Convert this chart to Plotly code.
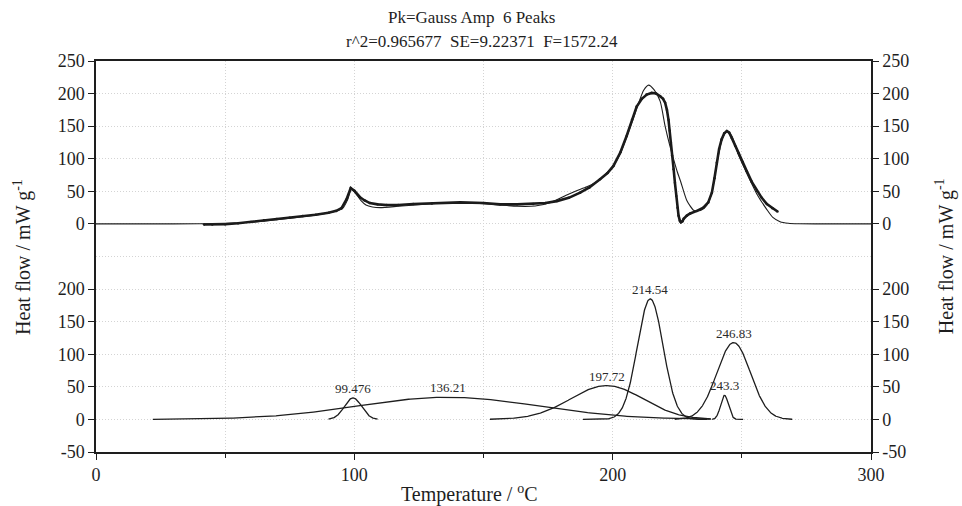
import numpy as np
import plotly.graph_objects as go

# ---------------- data ----------------
# measured DSC curve (thick, dotted in the original)
data_t = [41.8, 45, 50, 55, 60, 65, 70, 75, 80, 85, 90, 93, 95, 97, 98.6, 100, 102.2, 104, 106, 109,
          112.5, 117, 122.8, 130, 141, 150, 156.4, 163, 169.2, 174, 178.4, 183, 187.4, 191, 195.1, 198,
          200.3, 203, 205.4, 207.5, 209.3, 211.3, 213.2, 215.1, 216.8, 218.4, 219.5, 220.3, 221, 221.6,
          222.1, 222.5, 223, 223.6, 224.1, 224.6, 225.1, 225.5, 226, 226.4, 227, 227.5, 228.7, 230, 232.6,
          235.1, 237, 238.4, 239.4, 240.3, 241.2, 242.2, 243.2, 244.2, 245.1, 246.1, 247.4, 248.7, 250.3,
          251.9, 253.8, 255.8, 257.7, 259.7, 261.8, 263.8]
data_hf = [-1, -1, -0.5, 1, 3, 5.5, 7.5, 9.5, 12, 14, 17, 20, 24, 38, 55, 51, 41, 36, 32, 30,
           29, 29, 30.5, 31.5, 33, 32, 30, 30, 30.5, 32, 35, 40, 48, 56, 68.7, 78,
           89, 110, 135, 160, 180, 192, 198.5, 201, 200, 196, 192, 186, 175, 160,
           143, 125, 105, 84, 63, 43, 25, 12.7, 5, 2.5, 4, 8, 12.7, 16, 20,
           25, 33, 48, 70, 94, 115, 130, 139, 142.5, 140, 132, 120, 109, 95,
           81, 65, 51, 40, 30.5, 24, 19]

# fitted envelope (thin line)
fit_t = [0, 20, 40, 50, 60, 70, 80, 90, 93, 95.5, 97.5, 98.8, 100.5, 102.5, 104.5, 107, 110, 117, 125,
         135, 145, 155, 163, 170, 176, 182, 186, 190, 195, 200, 203, 205.4, 208, 210, 212, 213.9, 216,
         218.4, 220.3, 222, 223.6, 225, 226.4, 228.7, 231.3, 233, 235, 236.5, 238.4, 240.3, 242.2, 244.2,
         246.1, 248.7, 251.9, 255.8, 259.7, 262, 264.8, 268, 272, 280, 300]
fit_hf = [0, 0, 0.3, 0.8, 2.5, 6.5, 11, 17, 20, 24, 38, 53, 47, 36, 29, 26, 25, 27, 29.5,
          32, 32, 29.5, 27, 27.5, 33, 44, 51, 57, 68, 88, 108, 133, 162, 185, 205, 213, 206,
          188, 150, 122, 99, 80, 64, 36, 21, 20, 23, 29, 48, 92, 128, 143,
          135, 106, 78, 46, 22, 10, 3.5, 1, 0.2, 0, 0]

# Gaussian peak components (Pk=Gauss Amp)
peak_labels = ["99.476", "136.21", "197.72", "214.54", "243.3", "246.83"]
peak_centers = [99.476, 136.21, 197.72, 214.54, 243.3, 246.83]
peak_amps = [33, 34, 52, 185, 37, 118]
peak_widths = [3.3, 35, 14, 5.0, 1.5, 6.5]
peak_start = [90, 22, 152.5, 188.5, 238.5, 224]
peak_end = [109, 238, 238, 236.5, 250.5, 269.5]

title_line1 = "Pk=Gauss Amp&nbsp;&nbsp;6 Peaks"
title_line2 = "r^2=0.965677&nbsp;&nbsp;SE=9.22371&nbsp;&nbsp;F=1572.24"

x_ticks = [0, 100, 200, 300]
x_minor = [50, 150, 250]
top_ticks = [0, 50, 100, 150, 200, 250]
bottom_ticks = [-50, 0, 50, 100, 150, 200]

# ---------------- figure ----------------
FONT = "Liberation Serif"
INK = "#1e1e1e"
GRID = "#d4d4d4"
GDASH = "1px,2px"

fig = go.Figure()

fig.add_trace(go.Scatter(x=data_t, y=data_hf, mode="lines+markers", xaxis="x2", yaxis="y2",
                         line=dict(color="#1a1a1a", width=2.6),
                         marker=dict(size=2.5, color="#1a1a1a"), hoverinfo="skip", showlegend=False))
fig.add_trace(go.Scatter(x=fit_t, y=fit_hf, mode="lines", xaxis="x2", yaxis="y2",
                         line=dict(color=INK, width=1.1, shape="spline", smoothing=0.6),
                         hoverinfo="skip", showlegend=False))

for c, a, w, s, e in zip(peak_centers, peak_amps, peak_widths, peak_start, peak_end):
    xs = np.linspace(s, e, 300)
    ys = a * np.exp(-(xs - c) ** 2 / (2 * w ** 2))
    fig.add_trace(go.Scatter(x=xs, y=ys, mode="lines", xaxis="x", yaxis="y",
                             line=dict(color=INK, width=1.3), hoverinfo="skip", showlegend=False))

# empty traces to activate right-hand mirror axes
fig.add_trace(go.Scatter(x=[], y=[], xaxis="x", yaxis="y3", showlegend=False))
fig.add_trace(go.Scatter(x=[], y=[], xaxis="x2", yaxis="y4", showlegend=False))

for lab, c, a in zip(peak_labels, peak_centers, peak_amps):
    fig.add_annotation(x=c, y=a, xref="x", yref="y", text=lab, showarrow=False,
                       yanchor="bottom", yshift=0, font=dict(family=FONT, size=13, color="#2a2a2a"))

tickfont = dict(family=FONT, size=18, color=INK)
bottom_text = [str(v) for v in bottom_ticks]
top_text = [str(v) for v in top_ticks]

common_x = dict(range=[0, 300], showline=True, linecolor=INK, linewidth=1.5,
                showgrid=True, gridcolor=GRID, griddash=GDASH, gridwidth=1, zeroline=False)
yline = dict(showline=True, linecolor=INK, linewidth=1.5, zeroline=False, range=[-50, 250],
             ticks="outside", ticklen=6, tickwidth=1.3, tickcolor=INK, tickfont=tickfont)
fig.update_layout(
    xaxis=dict(domain=[0, 1], anchor="y", tickvals=x_ticks, ticks="outside", ticklen=6,
               tickwidth=1.3, tickcolor=INK, tickfont=tickfont,
               minor=dict(tickvals=x_minor, ticks="outside", ticklen=4, tickcolor=INK,
                          showgrid=True, gridcolor=GRID, griddash=GDASH),
               **common_x),
    xaxis2=dict(domain=[0, 1], anchor="y2", matches="x", side="top", tickvals=x_ticks,
                showticklabels=False, ticks="",
                minor=dict(tickvals=x_minor, ticks="", showgrid=True, gridcolor=GRID, griddash=GDASH),
                **common_x),
    yaxis=dict(domain=[0, 0.5], anchor="x", tickvals=bottom_ticks, ticktext=bottom_text,
               showgrid=True, gridcolor=GRID, griddash=GDASH, **yline),
    yaxis2=dict(domain=[0.5, 1], anchor="x2", tickvals=top_ticks, ticktext=top_text,
                showgrid=True, gridcolor=GRID, griddash=GDASH, **yline),
    yaxis3=dict(overlaying="y", side="right", anchor="x", tickvals=bottom_ticks, ticktext=bottom_text,
                showgrid=False, **yline),
    yaxis4=dict(overlaying="y2", side="right", anchor="x2", tickvals=top_ticks, ticktext=top_text,
                showgrid=False, **yline),
    width=962, height=506,
    margin=dict(l=96, r=91, t=61, b=54),
    plot_bgcolor="white", paper_bgcolor="white",
    font=dict(family=FONT, color=INK),
    showlegend=False,
)

# dotted separator between the two panels
fig.add_shape(type="line", xref="paper", yref="paper", x0=0, x1=1, y0=0.5, y1=0.5,
              line=dict(color=GRID, width=1, dash=GDASH), layer="below")

# titles
fig.add_annotation(text=title_line1, xref="paper", yref="paper", x=0.484, y=1.11,
                   showarrow=False, xanchor="center", yanchor="middle",
                   font=dict(family=FONT, size=17, color=INK))
fig.add_annotation(text=title_line2, xref="paper", yref="paper", x=0.498, y=1.049,
                   showarrow=False, xanchor="center", yanchor="middle",
                   font=dict(family=FONT, size=17, color=INK))
ytitle = "Heat flow / mW g<sup>-1</sup>"
fig.add_annotation(text=ytitle, xref="paper", yref="paper", x=-0.095, y=0.5, textangle=-90,
                   showarrow=False, xanchor="center", yanchor="middle",
                   font=dict(family=FONT, size=20, color=INK))
fig.add_annotation(text=ytitle, xref="paper", yref="paper", x=1.095, y=0.5, textangle=-90,
                   showarrow=False, xanchor="center", yanchor="middle",
                   font=dict(family=FONT, size=20, color=INK))
fig.add_annotation(text="Temperature / <sup>o</sup>C", xref="paper", yref="paper", x=0.482, y=-0.107,
                   showarrow=False, xanchor="center", yanchor="middle",
                   font=dict(family=FONT, size=20, color=INK))

fig.write_html("out.html", config={"displayModeBar": False},
               post_script="document.body.style.margin='0';")
